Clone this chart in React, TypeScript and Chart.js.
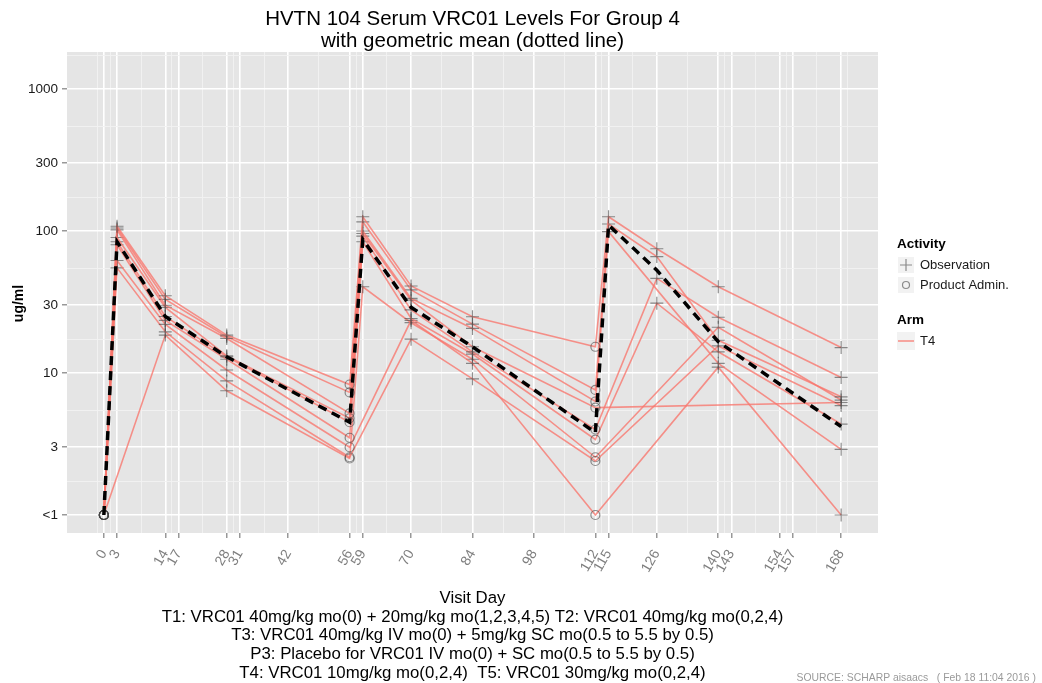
import React, { useEffect, useRef } from 'react';
import { Chart, registerables } from 'chart.js';

Chart.register(...registerables);

// ---- data ----
const visitDays = [0, 3, 14, 28, 56, 59, 70, 84, 112, 115, 126, 140, 168];
const adminDays = [0, 56, 112];

// ug/ml per participant at each visit day (null = no sample at that visit); 1 = "<1"
const subjectA = [1, 108, 35, 18.5, 8.3, 126, 41, 24.9, 15.3, 126, 75, 40.5, 15.1];
const subjectB = [1, 102, 30, 17.5, 5.2, 100, 33.5, 20.6, 6.3, 99, null, 11.7, 2.9];
const subjectC = [1, 105, 33, 18, 7.3, 116, 38.5, 22.1, 7.6, 112, 66, 17, 6.8];
const subjectD = [1, 90, 29, 13.2, 4.8, 96, 32.6, 15.3, 5.7, null, null, null, 6.2];
const subjectE = [1, 84, 25, 13, 4.5, 92, 27.8, 14.1, 4.0, null, 46.4, 24.7, 9.3];
const subjectF = [1, 80, 23.5, 12.5, 3.5, 84, 24.2, 13.6, 3.4, null, 31, 14.1, 4.37];
const subjectG = [1, 62, 22, 10.5, 3.0, null, 23.5, 11.7, 1, null, null, 11, 1];
const subjectH = [1, 55, 19.5, 8.8, 2.55, null, 17.3, 9.1, 2.4, null, null, 15.5, 5.9];
const subjectI = [1, null, 18.5, 7.5, 2.5, 40.5, 22.6, 12.5, 2.55, null, null, 21, 6.45];

const geometricMean = [1, 84, 25, 13, 4.5, 87, 29, 15.3, 3.8, 110, 53, 16.6, 4.2];

const xTickDays = [0, 3, 14, 17, 28, 31, 42, 56, 59, 70, 84, 98, 112, 115, 126, 140, 143, 154, 157, 168];
const yTickValues = [1, 3, 10, 30, 100, 300, 1000];
const yTickLabels = ['<1', '3', '10', '30', '100', '300', '1000'];

const xLimits = [-8.4, 176.4];
const yLimits = [0.7468, 1822];

const titleLines = ['HVTN 104 Serum VRC01 Levels For Group 4', 'with geometric mean (dotted line)'];
const xTitleLines = [
  'Visit Day',
  'T1: VRC01 40mg/kg mo(0) + 20mg/kg mo(1,2,3,4,5) T2: VRC01 40mg/kg mo(0,2,4)',
  'T3: VRC01 40mg/kg IV mo(0) + 5mg/kg SC mo(0.5 to 5.5 by 0.5)',
  'P3: Placebo for VRC01 IV mo(0) + SC mo(0.5 to 5.5 by 0.5)',
  'T4: VRC01 10mg/kg mo(0,2,4)  T5: VRC01 30mg/kg mo(0,2,4)',
];
const yTitle = 'ug/ml';
const sourceText = 'SOURCE: SCHARP aisaacs   ( Feb 18 11:04 2016 )';
const legendActivityTitle = 'Activity';
const legendActivity = ['Observation', 'Product Admin.'];
const legendArmTitle = 'Arm';
const legendArm = ['T4'];

const subjects = [subjectA, subjectB, subjectC, subjectD, subjectE, subjectF, subjectG, subjectH, subjectI];

// ---- styling ----
const FONT = '"Liberation Sans", Arial, Helvetica, sans-serif';
const LINE_PINK = 'rgba(248,118,109,0.78)';
const POINT_GREY = 'rgba(70,70,70,0.6)';
const PANEL_BG = '#E5E5E5';

function minorBreaks(breaks: number[], lo: number, hi: number): number[] {
  const b = breaks.slice();
  const bd = b[1] - b[0];
  if (lo < b[0]) b.unshift(b[0] - bd);
  if (hi > b[b.length - 1]) b.push(b[b.length - 1] + bd);
  const out: number[] = [];
  for (let i = 0; i < b.length - 1; i++) out.push((b[i] + b[i + 1]) / 2);
  return out.filter((v) => v > lo && v < hi);
}

const xMinor = minorBreaks(xTickDays, xLimits[0], xLimits[1]);
const yMinorLog = minorBreaks(
  yTickValues.map((v) => Math.log10(v)),
  Math.log10(yLimits[0]),
  Math.log10(yLimits[1])
);
const yMinor = yMinorLog.map((v) => Math.pow(10, v));

const isMajorX = (v: number) => xTickDays.some((d) => Math.abs(d - v) < 1e-9);
const isMajorY = (v: number) => yTickValues.some((d) => Math.abs(d - v) < 1e-9);

const panelBg = {
  id: 'panelBg',
  beforeDraw(chart: any) {
    const { ctx, chartArea } = chart;
    ctx.save();
    ctx.fillStyle = PANEL_BG;
    ctx.fillRect(chartArea.left, chartArea.top, chartArea.right - chartArea.left, chartArea.bottom - chartArea.top);
    ctx.restore();
  },
};

const ggText = {
  id: 'ggText',
  afterDraw(chart: any) {
    const { ctx, chartArea, width, height } = chart;
    const cy = (chartArea.top + chartArea.bottom) / 2;
    const x0 = chartArea.right + 19;
    const keyW = 18;
    const textX = x0 + keyW + 5;
    ctx.save();
    // y axis title
    ctx.save();
    ctx.translate(19, cy + 11);
    ctx.rotate(-Math.PI / 2);
    ctx.textAlign = 'center';
    ctx.textBaseline = 'middle';
    ctx.fillStyle = '#000';
    ctx.font = `bold 14px ${FONT}`;
    ctx.fillText(yTitle, 0, 0);
    ctx.restore();

    ctx.textBaseline = 'middle';
    ctx.textAlign = 'left';
    ctx.fillStyle = '#000';
    ctx.font = `bold 13.5px ${FONT}`;
    ctx.fillText(legendActivityTitle, x0, cy - 48);
    const rows = [cy - 27.5, cy - 7.5];
    rows.forEach((ry, i) => {
      ctx.fillStyle = '#F2F2F2';
      ctx.fillRect(x0, ry - 9, keyW, 18);
      ctx.strokeStyle = '#FFFFFF';
      ctx.lineWidth = 1;
      ctx.strokeRect(x0 + 0.5, ry - 8.5, keyW - 1, 17);
      ctx.strokeStyle = POINT_GREY;
      ctx.lineWidth = 1.2;
      ctx.beginPath();
      if (i === 0) {
        ctx.moveTo(x0 + keyW / 2 - 6, ry);
        ctx.lineTo(x0 + keyW / 2 + 6, ry);
        ctx.moveTo(x0 + keyW / 2, ry - 6);
        ctx.lineTo(x0 + keyW / 2, ry + 6);
      } else {
        ctx.arc(x0 + keyW / 2, ry, 3.5, 0, Math.PI * 2);
      }
      ctx.stroke();
      ctx.fillStyle = '#1a1a1a';
      ctx.font = `13px ${FONT}`;
      ctx.fillText(legendActivity[i], textX, ry);
    });
    ctx.fillStyle = '#000';
    ctx.font = `bold 13.5px ${FONT}`;
    ctx.fillText(legendArmTitle, x0, cy + 27.5);
    const ay = cy + 48.5;
    ctx.fillStyle = '#F2F2F2';
    ctx.fillRect(x0, ay - 9, keyW, 18);
    ctx.strokeStyle = LINE_PINK;
    ctx.lineWidth = 1.6;
    ctx.beginPath();
    ctx.moveTo(x0 + 1, ay);
    ctx.lineTo(x0 + keyW - 1, ay);
    ctx.stroke();
    ctx.fillStyle = '#1a1a1a';
    ctx.font = `13px ${FONT}`;
    ctx.fillText(legendArm[0], textX, ay);
    ctx.fillStyle = '#9a9a9a';
    ctx.font = `10.4px ${FONT}`;
    ctx.textAlign = 'right';
    ctx.fillText(sourceText, width - 6, height - 5);
    ctx.restore();
  },
};

export default function App() {
  const ref = useRef<HTMLCanvasElement>(null);
  useEffect(() => {
    if (!ref.current) return;
    const pointsOf = (vals: (number | null)[]) =>
      visitDays.map((d, i) => ({ x: d, y: vals[i] })).filter((p) => p.y !== null);

    const subjectSets = subjects.map((vals, k) => ({
      label: 'T4-' + (k + 1),
      data: pointsOf(vals),
      borderColor: LINE_PINK,
      borderWidth: 1.6,
      backgroundColor: 'rgba(0,0,0,0)',
      pointStyle: (c: any) => (adminDays.includes(c.raw?.x) ? 'circle' : 'cross'),
      pointRadius: (c: any) => (adminDays.includes(c.raw?.x) ? 4.5 : 6.5),
      pointBorderColor: POINT_GREY,
      pointBackgroundColor: 'rgba(0,0,0,0)',
      pointBorderWidth: 1.2,
      tension: 0,
      order: 2,
    }));

    const meanSet = {
      label: 'Geometric mean',
      data: pointsOf(geometricMean),
      borderColor: '#000',
      borderWidth: 3.5,
      borderDash: [9, 6],
      pointRadius: 0,
      tension: 0,
      order: 1,
    };

    const chart = new Chart(ref.current, {
      type: 'line',
      data: { datasets: [meanSet as any, ...subjectSets] },
      plugins: [panelBg, ggText],
      options: {
        animation: false,
        responsive: false,
        devicePixelRatio: 1,
        events: [],
        layout: { padding: { left: 0, right: 164, top: 0, bottom: 0 } },
        plugins: {
          legend: { display: false },
          tooltip: { enabled: false },
          title: {
            display: true,
            text: titleLines,
            fullSize: false,
            color: '#000',
            font: { family: FONT, size: 20.5, weight: 'normal', lineHeight: 22 / 20.5 },
            padding: { top: 8, bottom: 0 },
          },
        },
        scales: {
          x: {
            type: 'linear',
            bounds: 'data',
            min: xLimits[0],
            max: xLimits[1],
            afterBuildTicks: (scale: any) => {
              const all = [...xTickDays, ...xMinor].sort((a, b) => a - b);
              scale.ticks = all.map((v) => ({ value: v }));
            },
            afterFit: (scale: any) => {
              scale.height = 150;
            },
            ticks: {
              autoSkip: false,
              minRotation: 60,
              maxRotation: 60,
              padding: 9,
              color: '#7f7f7f',
              font: { family: FONT, size: 14 },
              callback: (v: any) => (isMajorX(Number(v)) ? String(v) : ''),
            },
            grid: {
              color: (c: any) => (c.tick && isMajorX(c.tick.value) ? '#FFFFFF' : '#F2F2F2'),
              lineWidth: (c: any) => (c.tick && isMajorX(c.tick.value) ? 1.6 : 0.9),
              tickColor: (c: any) => (c.tick && isMajorX(c.tick.value) ? '#7f7f7f' : 'rgba(0,0,0,0)'),
              tickLength: 5,
              tickWidth: 1.2,
            },
            border: { display: false },
            title: {
              display: true,
              text: xTitleLines,
              color: '#000',
              font: { family: FONT, size: 16.8, lineHeight: 18.7 / 16.8 },
              padding: { top: 0, bottom: 0.5 },
            },
          },
          y: {
            type: 'logarithmic',
            bounds: 'data',
            min: yLimits[0],
            max: yLimits[1],
            afterBuildTicks: (scale: any) => {
              const all = [...yTickValues, ...yMinor].sort((a, b) => a - b);
              scale.ticks = all.map((v) => ({ value: v }));
            },
            afterFit: (scale: any) => {
              scale.width = 67;
            },
            ticks: {
              autoSkip: false,
              padding: 4,
              color: '#1a1a1a',
              font: { family: FONT, size: 13.5 },
              callback: (v: any) => {
                const i = yTickValues.findIndex((d) => Math.abs(d - Number(v)) < 1e-9);
                return i >= 0 ? yTickLabels[i] : '';
              },
            },
            grid: {
              color: (c: any) => (c.tick && isMajorY(c.tick.value) ? '#FFFFFF' : '#F2F2F2'),
              lineWidth: (c: any) => (c.tick && isMajorY(c.tick.value) ? 1.6 : 0.9),
              tickColor: (c: any) => (c.tick && isMajorY(c.tick.value) ? '#7f7f7f' : 'rgba(0,0,0,0)'),
              tickLength: 5,
              tickWidth: 1.2,
            },
            border: { display: false },
            title: { display: false },
          },
        },
      } as any,
    });
    return () => chart.destroy();
  }, []);

  return (
    <div style={{ position: 'absolute', left: 0, top: 0, width: 1042, height: 683, background: '#fff' }}>
      <canvas ref={ref} width={1042} height={683} style={{ display: 'block', width: 1042, height: 683 }} />
    </div>
  );
}
